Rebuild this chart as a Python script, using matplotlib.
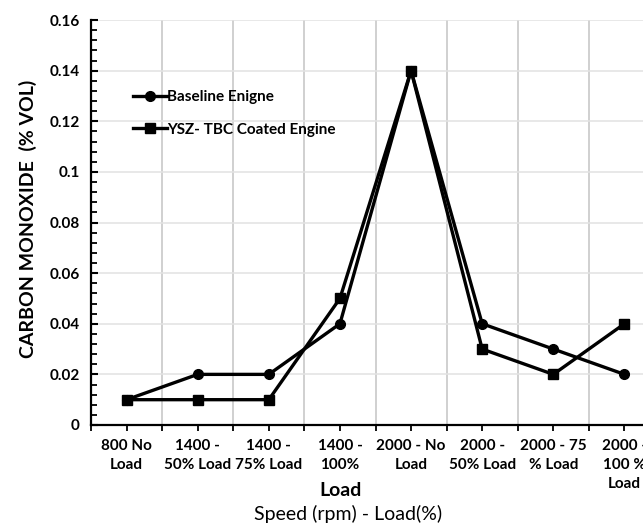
import matplotlib.pyplot as plt
from matplotlib.ticker import MultipleLocator

plt.rcParams['font.family'] = ['Lato', 'DejaVu Sans']

categories = ['800 No\nLoad', '1400 -\n50% Load', '1400 -\n75% Load', '1400 -\n100%',
              '2000 - No\nLoad', '2000 -\n50% Load', '2000 - 75\n% Load', '2000 -\n100 %\nLoad']
baseline = [0.01, 0.02, 0.02, 0.04, 0.14, 0.04, 0.03, 0.02]
coated = [0.01, 0.01, 0.01, 0.05, 0.14, 0.03, 0.02, 0.04]

W, H = 643, 523
fig = plt.figure(figsize=(W / 100, H / 100), dpi=100)
# axes run past the right edge, like the cropped original
ax = fig.add_axes([91 / W, (H - 425) / H, (660 - 91) / W, 405 / H])

x = list(range(len(categories)))
ax.plot(x, baseline, color='black', lw=2.4, marker='o', ms=7, label='Baseline Enigne', zorder=3)
ax.plot(x, coated, color='black', lw=2.4, marker='s', ms=6.5, label='YSZ- TBC Coated Engine', zorder=3)

ax.set_xlim(-0.5, 7.5)
ax.set_ylim(0, 0.16)

# ticks and grid
ax.set_xticks([i + 0.5 for i in range(-1, 8)])
ax.set_xticks(x, minor=True)
ax.set_xticklabels([])
ax.set_xticklabels(categories, minor=True, fontsize=11, fontweight='bold', linespacing=1.45)
ax.tick_params(axis='x', which='both', direction='out', length=4, width=1.3, pad=6)
ax.grid(axis='x', which='major', color='#c4c4c4', lw=1.1, zorder=0)

ax.yaxis.set_major_locator(MultipleLocator(0.02))
ax.yaxis.set_minor_locator(MultipleLocator(0.004))
ax.set_yticks([0, 0.02, 0.04, 0.06, 0.08, 0.1, 0.12, 0.14, 0.16])
ax.set_yticklabels(['0', '0.02', '0.04', '0.06', '0.08', '0.1', '0.12', '0.14', '0.16'],
                   fontsize=11, fontweight='bold')
ax.tick_params(axis='y', which='major', direction='in', length=5, width=1.5, pad=8)
ax.tick_params(axis='y', which='minor', direction='in', length=4, width=1.3)
ax.grid(axis='y', which='major', color='#e2e2e2', lw=1.1, zorder=0)

for s in ['top', 'right']:
    ax.spines[s].set_visible(False)
for s in ['left', 'bottom']:
    ax.spines[s].set_linewidth(1.6)
    ax.spines[s].set_color('black')

ax.set_ylabel('CARBON MONOXIDE  (% VOL)', fontsize=14, fontweight='bold')
ax.yaxis.set_label_coords(-0.095, 0.51)

fig.text(341 / W, 1 - 490 / H, 'Load', fontsize=14, fontweight='bold', ha='center', va='center')
fig.text(348 / W, 1 - 514 / H, 'Speed (rpm) - Load(%)', fontsize=14, ha='center', va='center')

ax.legend(loc='upper left', bbox_to_anchor=(0.05, 0.86), frameon=False, handlelength=2.2,
          handletextpad=0.0, labelspacing=1.2, prop={'weight': 'bold', 'size': 11})

fig.savefig('out.png', dpi=100)
